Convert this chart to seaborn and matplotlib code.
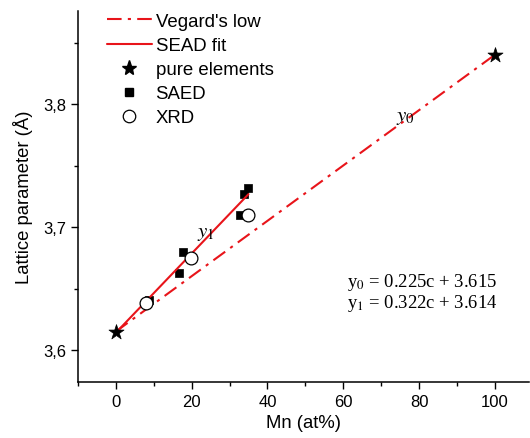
import numpy as np
import pandas as pd
import matplotlib
matplotlib.use("Agg")
import matplotlib.pyplot as plt
from matplotlib.ticker import MultipleLocator, FuncFormatter
from matplotlib.lines import Line2D
import seaborn as sns

# data
pure_mn = [0, 100]
pure_a = [3.615, 3.840]
saed_mn = [8.7, 16.6, 17.7, 32.7, 33.8, 34.8]
saed_a = [3.641, 3.663, 3.680, 3.710, 3.727, 3.732]
xrd_mn = [7.9, 19.8, 34.8]
xrd_a = [3.638, 3.675, 3.710]
vegard_c = [0, 100]
fit_c = [0, 35]
k0, b0 = 0.225, 3.615
k1, b1 = 0.322, 3.614

sns.set_style("ticks")
plt.rcParams['font.family'] = ['Liberation Sans', 'DejaVu Sans']
plt.rcParams['mathtext.fontset'] = 'stix'
for k in ['text.color', 'axes.labelcolor', 'xtick.color', 'ytick.color', 'axes.edgecolor']:
    plt.rcParams[k] = 'black'

fig = plt.figure(figsize=(5.3, 4.39), dpi=100)
ax = fig.add_axes([0.147, 0.1276, 0.851, 0.845])

red = "#e8141a"
vdash = (0, (7, 3, 1.5, 3))
veg = pd.DataFrame({"c": vegard_c, "a": [b0 + k0 * c / 100 for c in vegard_c]})
fit = pd.DataFrame({"c": fit_c, "a": [b1 + k1 * c / 100 for c in fit_c]})

sns.scatterplot(x=saed_mn, y=saed_a, marker="s", s=32, color="black",
                edgecolor="black", linewidth=0.5, ax=ax, zorder=2)
sns.lineplot(data=veg, x="c", y="a", color=red, lw=1.5, ax=ax,
             linestyle=vdash, zorder=3)
sns.lineplot(data=fit, x="c", y="a", color=red, lw=1.5, ax=ax, zorder=3)
sns.scatterplot(x=xrd_mn, y=xrd_a, marker="o", s=85, facecolor="white",
                edgecolor="black", linewidth=0.9, ax=ax, zorder=4)
sns.scatterplot(x=pure_mn, y=pure_a, marker="*", s=130, color="black",
                edgecolor="black", linewidth=0.5, ax=ax, zorder=5)

ax.set_xlim(-10, 109)
ax.set_ylim(3.574, 3.8756)
ax.xaxis.set_major_locator(MultipleLocator(20))
ax.xaxis.set_minor_locator(MultipleLocator(10))
ax.yaxis.set_major_locator(MultipleLocator(0.1))
ax.yaxis.set_minor_locator(MultipleLocator(0.05))
ax.yaxis.set_major_formatter(FuncFormatter(lambda v, p: f"{v:.1f}".replace(".", ",")))
ax.tick_params(which="major", length=5, width=1, labelsize=12, direction="out")
ax.tick_params(which="minor", length=3, width=1, direction="out")
sns.despine(ax=ax)
for s in ["left", "bottom"]:
    ax.spines[s].set_linewidth(1.1)

ax.set_xlabel("Mn (at%)", fontsize=13.3, labelpad=4)
ax.set_ylabel("Lattice parameter (Å)", fontsize=13.3, labelpad=7)

handles = [
    Line2D([], [], color=red, lw=1.5, linestyle=vdash),
    Line2D([], [], color=red, lw=1.5),
    Line2D([], [], color="black", marker="*", ms=11, lw=0),
    Line2D([], [], color="black", marker="s", ms=6, lw=0),
    Line2D([], [], color="black", marker="o", ms=9, lw=0, mfc="white", mew=0.9),
]
labels = ["Vegard's low", "SEAD fit", "pure elements", "SAED", "XRD"]
ax.legend(handles, labels, loc="upper left", bbox_to_anchor=(0.04, 1.025), frameon=False,
          fontsize=13.4, handlelength=2.4, handletextpad=0.2, labelspacing=0.38,
          borderaxespad=0.2)

serif = ['Liberation Serif', 'DejaVu Serif']
ax.text(21.5, 3.693, "$y_1$", fontsize=15, family=serif)
ax.text(74, 3.787, "$y_0$", fontsize=15, family=serif)
ax.text(61, 3.635, "y$_0$ = 0.225c + 3.615\ny$_1$ = 0.322c + 3.614",
        fontsize=13.4, family=serif, linespacing=1.0)

fig.savefig("out.png", dpi=100)
